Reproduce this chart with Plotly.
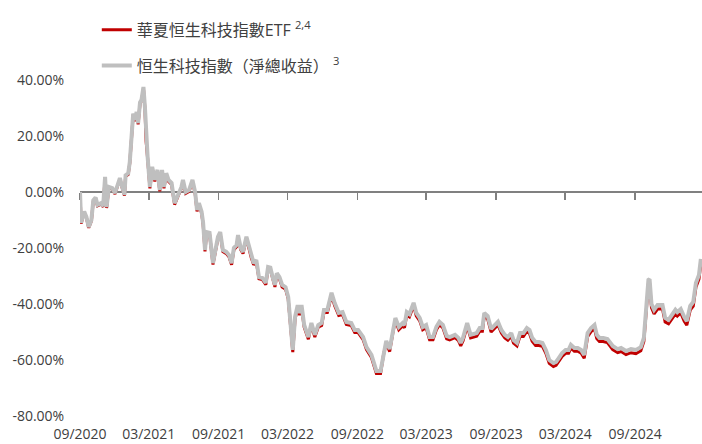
import plotly.graph_objects as go

dates = [
    "2020-09-01","2020-09-04","2020-09-12","2020-09-18","2020-09-24","2020-10-01","2020-10-06","2020-10-12","2020-10-17","2020-10-26",
    "2020-11-01","2020-11-06","2020-11-10","2020-11-16","2020-11-25","2020-12-02","2020-12-09","2020-12-15","2020-12-21","2020-12-27",
    "2020-12-30","2021-01-06","2021-01-10","2021-01-15","2021-01-19","2021-01-24","2021-01-28","2021-02-01","2021-02-06","2021-02-10",
    "2021-02-15","2021-02-19","2021-02-22","2021-02-26","2021-03-04","2021-03-10","2021-03-17","2021-03-24","2021-03-30","2021-04-05",
    "2021-04-10","2021-04-16","2021-04-22","2021-04-30","2021-05-08","2021-05-17","2021-05-26","2021-05-30","2021-06-06","2021-06-15",
    "2021-06-24","2021-07-01","2021-07-06","2021-07-11","2021-07-18","2021-07-22","2021-07-27","2021-07-31","2021-08-08","2021-08-17",
    "2021-08-24","2021-08-30","2021-09-05","2021-09-12","2021-09-21","2021-09-28","2021-10-05","2021-10-11","2021-10-18","2021-10-22",
    "2021-10-29","2021-11-04","2021-11-13","2021-11-20","2021-11-26","2021-12-02","2021-12-09","2021-12-16","2021-12-25","2022-01-03",
    "2022-01-09","2022-01-15","2022-01-21","2022-01-27","2022-02-01","2022-02-08","2022-02-15","2022-02-24","2022-03-03","2022-03-08",
    "2022-03-15","2022-03-21","2022-03-28","2022-04-02","2022-04-07","2022-04-14","2022-04-25","2022-05-03","2022-05-12","2022-05-21",
    "2022-05-30","2022-06-05","2022-06-14","2022-06-25","2022-07-03","2022-07-14","2022-07-24","2022-08-03","2022-08-16","2022-08-25",
    "2022-09-03","2022-09-16","2022-09-25","2022-10-08","2022-10-21","2022-11-01","2022-11-09","2022-11-16","2022-11-25","2022-12-04",
    "2022-12-10","2022-12-19","2022-12-29","2023-01-03","2023-01-09","2023-01-16","2023-01-27","2023-02-03","2023-02-12","2023-02-20",
    "2023-03-01","2023-03-10","2023-03-19","2023-03-28","2023-04-05","2023-04-14","2023-04-24","2023-05-02","2023-05-16","2023-05-25",
    "2023-05-31","2023-06-06","2023-06-17","2023-06-26","2023-07-04","2023-07-12","2023-07-20","2023-07-27","2023-08-01","2023-08-10",
    "2023-08-19","2023-08-28","2023-09-06","2023-09-15","2023-09-24","2023-10-02","2023-10-11","2023-10-17","2023-10-26","2023-11-03",
    "2023-11-12","2023-11-21","2023-11-28","2023-12-05","2023-12-14","2023-12-23","2024-01-01","2024-01-10","2024-01-19","2024-01-30",
    "2024-02-06","2024-02-13","2024-02-22","2024-03-02","2024-03-10","2024-03-16","2024-03-25","2024-04-03","2024-04-12","2024-04-20",
    "2024-04-29","2024-05-08","2024-05-17","2024-05-23","2024-05-30","2024-06-09","2024-06-20","2024-06-28","2024-07-04","2024-07-17",
    "2024-07-26","2024-08-08","2024-08-21","2024-09-03","2024-09-16","2024-09-24","2024-10-01","2024-10-06","2024-10-09","2024-10-14",
    "2024-10-21","2024-10-30","2024-11-03","2024-11-12","2024-11-19","2024-11-28","2024-12-07","2024-12-16","2024-12-21","2024-12-30",
    "2025-01-08","2025-01-15","2025-01-24","2025-02-01","2025-02-08","2025-02-16","2025-02-21",
]

# 恒生科技指數（淨總收益）cumulative return, %
hstech_ntr = [
    0.0, -11.0, -7.0, -9.0, -12.5, -10.0, -3.0, -2.0, -4.6, -4.0,
    -5.0, 5.4, -5.4, 1.8, 1.4, -0.4, 2.5, 5.0, 1.8, -1.0,
    6.0, 6.7, 10.7, 21.0, 28.0, 25.7, 28.6, 24.6, 32.0, 33.0,
    37.5, 30.0, 18.6, 12.5, 1.8, 9.0, 4.3, 7.9, 0.7, 7.9,
    1.8, 6.7, 4.3, 3.2, -4.0, -1.0, 1.8, 4.3, 0.0, 0.7,
    4.3, 0.0, -6.4, -4.0, -7.0, -11.0, -20.7, -14.3, -14.6, -25.4,
    -19.6, -16.0, -14.3, -20.7, -21.4, -22.5, -25.4, -20.0, -19.0, -15.4,
    -20.0, -21.4, -16.0, -20.0, -23.0, -25.4, -24.3, -30.4, -30.7, -32.5,
    -26.8, -27.0, -30.4, -33.2, -29.0, -30.4, -33.2, -34.0, -37.5, -44.6,
    -56.4, -44.6, -40.4, -43.2, -40.4, -47.5, -51.8, -46.8, -51.0, -47.5,
    -46.8, -42.1, -42.1, -36.0, -39.6, -43.2, -42.9, -46.4, -46.8, -49.3,
    -49.3, -51.8, -55.4, -58.2, -63.9, -63.9, -57.1, -53.2, -56.1, -48.9,
    -45.0, -48.2, -46.8, -47.5, -42.9, -43.6, -39.6, -43.2, -45.0, -48.2,
    -47.5, -51.8, -51.8, -48.2, -46.4, -47.5, -51.4, -51.8, -51.0, -52.1,
    -53.9, -52.1, -46.8, -51.0, -50.7, -50.4, -48.6, -48.6, -43.2, -44.3,
    -48.9, -47.5, -46.4, -49.3, -51.0, -51.8, -50.4, -52.9, -53.9, -50.4,
    -50.4, -48.6, -49.3, -52.1, -53.6, -53.6, -53.9, -56.4, -60.0, -61.1,
    -60.7, -59.3, -57.5, -56.4, -56.4, -54.6, -55.7, -55.7, -56.4, -58.2,
    -50.4, -48.6, -47.5, -51.0, -52.1, -52.1, -52.5, -53.9, -55.0, -56.1,
    -55.7, -56.8, -56.1, -56.4, -55.4, -52.1, -40.4, -31.4, -31.1, -40.0,
    -42.1, -40.4, -40.4, -40.4, -45.0, -45.7, -43.9, -42.1, -42.9, -41.8,
    -44.6, -46.1, -40.7, -39.3, -32.5, -29.6, -23.9,
]

# 華夏恒生科技指數ETF cumulative return, %
etf = [
    0.0, -11.3, -7.3, -9.3, -12.8, -10.3, -3.3, -2.3, -4.9, -4.3,
    -5.3, 5.1, -5.7, 1.5, 1.1, -0.7, 2.2, 4.7, 1.5, -1.3,
    5.6, 6.3, 10.3, 20.6, 27.6, 25.3, 28.2, 24.2, 31.6, 32.6,
    37.0, 29.5, 18.1, 12.0, 1.3, 8.5, 3.8, 7.4, 0.2, 7.4,
    1.3, 6.2, 3.8, 2.7, -4.5, -1.5, 1.3, 3.8, -0.5, 0.2,
    3.8, -0.5, -6.9, -4.5, -7.5, -11.5, -21.2, -14.8, -15.1, -25.9,
    -20.2, -16.6, -14.9, -21.3, -22.0, -23.1, -26.0, -20.6, -19.6, -16.0,
    -20.6, -22.0, -16.6, -20.6, -23.6, -26.0, -24.9, -31.0, -31.3, -33.1,
    -27.5, -27.7, -31.1, -33.9, -29.7, -31.1, -33.9, -34.7, -38.2, -45.3,
    -57.2, -45.4, -41.2, -44.0, -41.2, -48.3, -52.6, -47.6, -51.8, -48.3,
    -47.7, -43.0, -43.0, -36.9, -40.5, -44.1, -43.8, -47.3, -47.7, -50.2,
    -50.2, -52.7, -56.3, -59.1, -64.8, -64.8, -58.0, -54.1, -57.0, -49.8,
    -46.0, -49.2, -47.8, -48.5, -43.9, -44.6, -40.6, -44.2, -46.0, -49.2,
    -48.5, -52.8, -52.8, -49.2, -47.4, -48.5, -52.4, -52.8, -52.0, -53.1,
    -55.0, -53.2, -47.9, -52.1, -51.8, -51.5, -49.7, -49.7, -44.3, -45.4,
    -50.0, -48.6, -47.5, -50.4, -52.1, -52.9, -51.5, -54.0, -55.0, -51.5,
    -51.6, -49.8, -50.5, -53.3, -54.8, -54.8, -55.1, -57.6, -61.2, -62.3,
    -61.9, -60.5, -58.7, -57.6, -57.6, -55.8, -56.9, -56.9, -57.6, -59.4,
    -51.7, -49.9, -48.8, -52.3, -53.4, -53.4, -53.8, -55.2, -56.3, -57.4,
    -57.0, -58.1, -57.4, -57.7, -56.7, -53.4, -41.7, -32.7, -32.4, -41.3,
    -43.5, -41.8, -41.8, -41.8, -46.4, -47.1, -45.3, -43.5, -44.3, -43.2,
    -46.1, -47.6, -42.2, -40.8, -34.0, -31.1, -25.4,
]

series_names = ["華夏恒生科技指數ETF <sup>2,4</sup>", "恒生科技指數（淨總收益） <sup>3</sup>"]

x_tick_vals = ["2020-09-01", "2021-03-01", "2021-09-01", "2022-03-01", "2022-09-01",
               "2023-03-01", "2023-09-01", "2024-03-01", "2024-09-01"]
x_tick_text = ["09/2020", "03/2021", "09/2021", "03/2022", "09/2022",
               "03/2023", "09/2023", "03/2024", "09/2024"]
y_tick_vals = [40, 20, 0, -20, -40, -60, -80]
y_tick_text = ["40.00%", "20.00%", "0.00%", "-20.00%", "-40.00%", "-60.00%", "-80.00%"]

x_range = ["2020-09-01", "2025-02-24"]
y_range = [-80, 40]

FONT = "Open Sans, Noto Sans CJK TC, sans-serif"
TEXT = "#404040"
AXIS = "#808080"

fig = go.Figure()
fig.add_trace(go.Scatter(
    x=dates, y=etf, mode="lines", name=series_names[0],
    line=dict(color="#C00000", width=3), xaxis="x", yaxis="y",
    legendgroup="etf", hoverinfo="skip",
))
fig.add_trace(go.Scatter(
    x=dates, y=hstech_ntr, mode="lines", name=series_names[1],
    line=dict(color="#BFBFBF", width=4), xaxis="x2", yaxis="y",
    legendgroup="idx", hoverinfo="skip",
))

fig.update_layout(
    width=702, height=444,
    margin=dict(l=80, r=0, t=80, b=28, autoexpand=False),
    paper_bgcolor="white", plot_bgcolor="white",
    font=dict(family=FONT, size=14, color=TEXT),
    showlegend=True,
    hovermode=False,
    legend=dict(
        x=0.027, y=1.20, xanchor="left", yanchor="top",
        font=dict(size=16, color=TEXT), tracegroupgap=12,
        bgcolor="rgba(0,0,0,0)", itemwidth=30,
    ),
    xaxis=dict(
        type="date", range=x_range, tickvals=x_tick_vals, ticktext=x_tick_text,
        showline=False, showgrid=False, zeroline=False, automargin=False,
        ticks="outside", ticklen=5, tickcolor="rgba(0,0,0,0)",
        tickfont=dict(size=14, color=TEXT),
    ),
    xaxis2=dict(
        type="date", overlaying="x", anchor="free", position=2 / 3,
        range=x_range, tickvals=x_tick_vals, showticklabels=False,
        showline=True, linecolor=AXIS, linewidth=2, automargin=False,
        ticks="outside", ticklen=7, tickwidth=1.5, tickcolor=AXIS,
        showgrid=False, zeroline=False, layer="below traces",
    ),
    yaxis=dict(
        range=y_range, tickvals=y_tick_vals, ticktext=y_tick_text,
        showgrid=False, zeroline=False, showline=False, automargin=False,
        ticks="outside", ticklen=12, tickcolor="rgba(0,0,0,0)",
        tickfont=dict(size=14, color=TEXT),
    ),
)

fig.write_html(
    "out.html",
    config={"displayModeBar": False, "staticPlot": True},
    post_script="document.body.style.margin='0px';document.body.style.overflow='hidden';",
)
